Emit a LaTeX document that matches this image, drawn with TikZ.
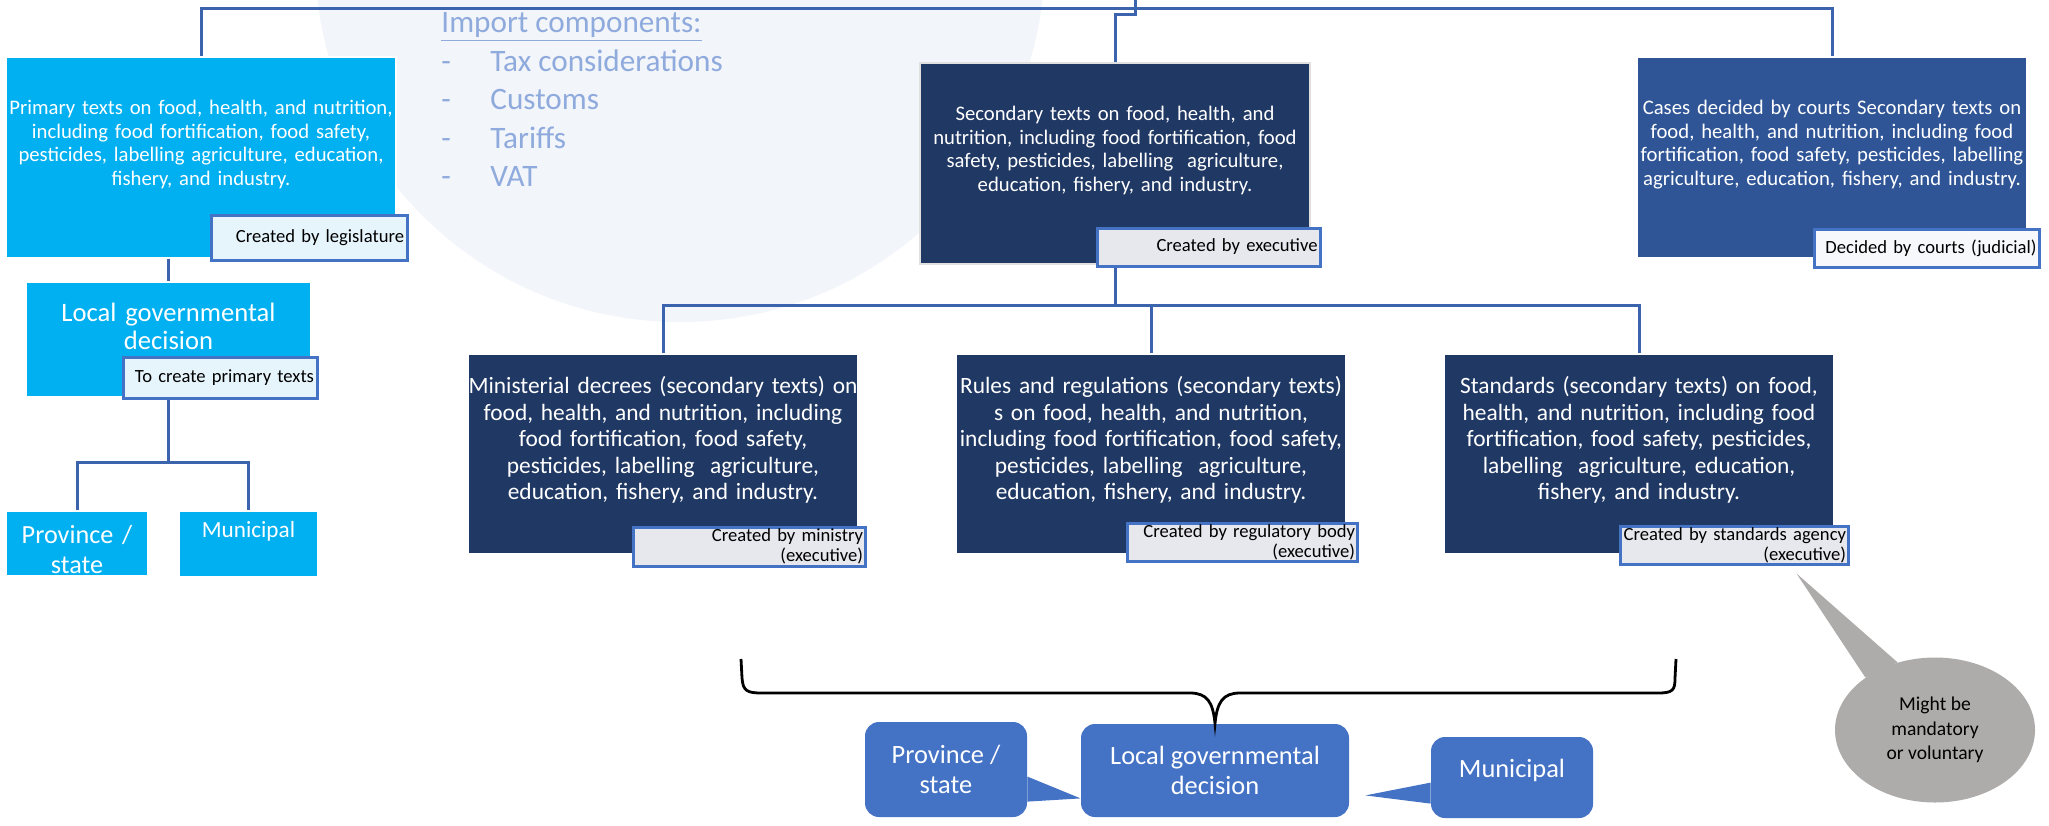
\documentclass[tikz,border=0pt]{standalone}
\usepackage{fontspec}
\setmainfont{Carlito}
\usetikzlibrary{shapes.geometric,calc}

\definecolor{cyanbox}{HTML}{00B0F0}
\definecolor{navybox}{HTML}{203864}
\definecolor{courtbox}{HTML}{2F5597}
\definecolor{linkblue}{HTML}{3C64AE}
\definecolor{tagline}{HTML}{4472C4}
\definecolor{tagcyan}{HTML}{E6F5FC}
\definecolor{taggrey}{HTML}{E7E7EE}
\definecolor{tagwhite}{HTML}{F6F8FC}
\definecolor{callblue}{HTML}{4472C4}
\definecolor{notegrey}{HTML}{AEABAB}
\definecolor{importtxt}{HTML}{8FAADC}
\definecolor{bgdisc}{HTML}{F2F5FA}

\newcommand{\setfs}[2]{\fontsize{#1}{#2}\selectfont}
\hyphenpenalty=10000

\tikzset{
  conn/.style={draw=linkblue, line width=1.5pt},
  box/.style={rectangle, inner ysep=0pt, inner xsep=-12pt, minimum width=#1, text width=#1+24pt,
    align=center, text=white, draw=white, line width=0.6pt},
  lift/.style={execute at end node={\par\vspace*{#1}}},
  tag/.style={rectangle, draw=tagline, line width=1.5pt, inner sep=0pt, align=right, text=black, font=\setfs{9.3}{10}},
  callout/.style={rectangle, rounded corners=7pt, fill=callblue, inner sep=0pt, align=center, text=white, font=\setfs{13.2}{15}},
  brace/.style={draw=black, line width=1.4pt},
  note/.style={ellipse, fill=notegrey, inner sep=0pt, align=center, font=\setfs{9.8}{12.2}}
}

\begin{document}
\begin{tikzpicture}[x=0.5pt, y=-0.5pt]
  % Page frame
  \fill[white] (0,0) rectangle (2049,825);
  \useasboundingbox (0,0) rectangle (2049,825);

  % Pale disc behind the import list
  \begin{scope}
    \clip (0,0) rectangle (2049,825);
    \fill[bgdisc] (680,-43) circle (182.5pt);
  \end{scope}

  % Import list
  \node[anchor=north west, inner sep=0pt, align=left, text=importtxt, font=\setfs{15.6}{19.3}] (imp) at (441,12)
    {\underline{Import components:}\\
     \makebox[24.5pt][l]{-}Tax considerations\\
     \makebox[24.5pt][l]{-}Customs\\
     \makebox[24.5pt][l]{-}Tariffs\\
     \makebox[24.5pt][l]{-}VAT};

  % Upper row
  \node[box=195pt, fill=cyanbox, minimum height=100.5pt, lift=13pt, font=\setfs{10.35}{11.75}] (prim) at (201,157.5)
    {Primary texts on food, health, and nutrition,\\including food fortification, food safety,\\pesticides, labelling agriculture, education,\\fishery, and industry.};
  \node[box=195pt, fill=navybox, draw=white!88!black, minimum height=100.5pt, lift=13pt, font=\setfs{10.35}{11.75}] (sec) at (1115,163.5)
    {Secondary texts on food, health, and\\nutrition, including food fortification, food\\safety, pesticides, labelling~ agriculture,\\education, fishery, and industry.};
  \node[box=195pt, fill=courtbox, minimum height=100.5pt, lift=13pt, font=\setfs{10.35}{11.75}] (cases) at (1832,157.5)
    {Cases decided by courts Secondary texts on\\food, health, and nutrition, including food\\fortification, food safety, pesticides, labelling\\agriculture, education, fishery, and industry.};

  % Tags of the upper row
  \node[tag, fill=tagcyan, minimum width=98pt, minimum height=22.5pt, text width=95pt] (tlegis) at (309,237.5) {Created by legislature};
  \node[tag, fill=taggrey, minimum width=111.5pt, minimum height=19pt, text width=109pt] (texec) at (1208.5,247) {Created by executive};
  \node[tag, fill=tagwhite, minimum width=112.5pt, minimum height=19pt, text width=110pt] (tcourt) at (1926.5,248) {Decided by courts (judicial)};

  % Local branch on the left
  \node[box=142.5pt, fill=cyanbox, minimum height=57.5pt, lift=13.5pt, font=\setfs{13.3}{14}] (loc) at (168.5,339.5)
    {Local governmental\\decision};
  \node[tag, fill=tagcyan, minimum width=97pt, minimum height=20.5pt, text width=94pt] (tcreate) at (220,377.5) {To create primary texts};
  \node[box=71pt, fill=cyanbox, minimum height=32.5pt, text height=12.75pt, text depth=13.25pt, font=\setfs{13.1}{15}] (prov) at (77,543.5)
    {Province /\\state};
  \node[box=69.5pt, fill=cyanbox, minimum height=33pt, lift=13pt, font=\setfs{11.6}{13}] (muni) at (248.5,544)
    {Municipal};

  % Lower row
  \node[box=195pt, fill=navybox, minimum height=100pt, lift=14pt, font=\setfs{11.7}{13.2}] (mini) at (663,454)
    {Ministerial decrees (secondary texts) on\\food, health, and nutrition, including\\food fortification, food safety,\\pesticides, labelling~ agriculture,\\education, fishery, and industry.};
  \node[box=195pt, fill=navybox, minimum height=100pt, lift=14pt, font=\setfs{11.7}{13.2}] (rule) at (1151,454)
    {Rules and regulations (secondary texts)\\s on food, health, and nutrition,\\including food fortification, food safety,\\pesticides, labelling~ agriculture,\\education, fishery, and industry.};
  \node[box=195pt, fill=navybox, minimum height=100pt, lift=14pt, font=\setfs{11.7}{13.2}] (stan) at (1639,454)
    {Standards (secondary texts) on food,\\health, and nutrition, including food\\fortification, food safety, pesticides,\\labelling~ agriculture, education,\\fishery, and industry.};

  % Tags of the lower row
  \node[tag, fill=taggrey, minimum width=116pt, minimum height=19.5pt, text width=114pt] (tmin) at (749,546.5) {Created by ministry\\(executive)};
  \node[tag, fill=taggrey, minimum width=115pt, minimum height=19pt, text width=113pt] (treg) at (1242,542) {Created by regulatory body\\(executive)};
  \node[tag, fill=taggrey, minimum width=114pt, minimum height=19pt, text width=112pt] (tstand) at (1734,545) {Created by standards agency\\(executive)};

  % Connectors
  \coordinate (root) at (1135,0);
  \coordinate (topbus) at (0,8);
  \coordinate (midbus) at (0,305);
  \coordinate (lowbus) at (0,462);
  \draw[conn] (prim.north) -- (prim.north |- topbus) -- (cases.north |- topbus) -- (cases.north);
  \draw[conn] (root) -- ++(0,14) -| (sec.north);
  \draw[conn] (sec.south |- texec.south) -- (sec.south |- midbus);
  \draw[conn] (mini.north) -- (mini.north |- midbus) -- (stan.north |- midbus) -- (stan.north);
  \draw[conn] (rule.north |- midbus) -- (rule.north);
  \draw[conn] (prim.south -| loc.north) -- (loc.north);
  \draw[conn] (loc.south |- tcreate.south) -- (loc.south |- lowbus);
  \draw[conn] (prov.north) -- (prov.north |- lowbus) -- (muni.north |- lowbus) -- (muni.north);

  % Bottom callouts
  \node[callout, minimum width=134pt, minimum height=46.5pt] (bloc) at (1215,770.5) {Local governmental\\decision};
  \node[callout, minimum width=81pt, minimum height=47.5pt] (bprov) at (946,769.5) {Province /\\state};
  \node[callout, minimum width=81pt, minimum height=40.5pt, text width=81pt, lift=7.5pt] (bmuni) at (1512,777.5) {Municipal};
  \fill[callblue] ($(bprov.north east)+(0,55)$) -- ($(bloc.south west)+(0,-19)$) -- ($(bprov.north east)+(0,80)$) -- cycle;
  \fill[callblue] ($(bmuni.north west)+(0,46)$) -- ($(bloc.south east)+(16,-22)$) -- ($(bmuni.north west)+(0,67)$) -- cycle;

  % Brace over the lower row
  \draw[brace] (741,659) -- (742,678) .. controls (743,691) and (747,693) .. (762,693) -- (1190,693)
    .. controls (1207,693) and (1213,702) .. (bloc.north)
    .. controls (1217,702) and (1223,693) .. (1240,693) -- (1658,693)
    .. controls (1673,693) and (1675,690) .. (1675,678) -- (1676,659);

  % Grey note
  \node[note, minimum width=100pt, minimum height=72.5pt] (mnote) at (1935,730) {Might be\\mandatory\\or voluntary};
  \fill[notegrey] (mnote.143) -- ($(tstand.south east)+(-53,8)$) -- (mnote.119) -- cycle;

\end{tikzpicture}
\end{document}
